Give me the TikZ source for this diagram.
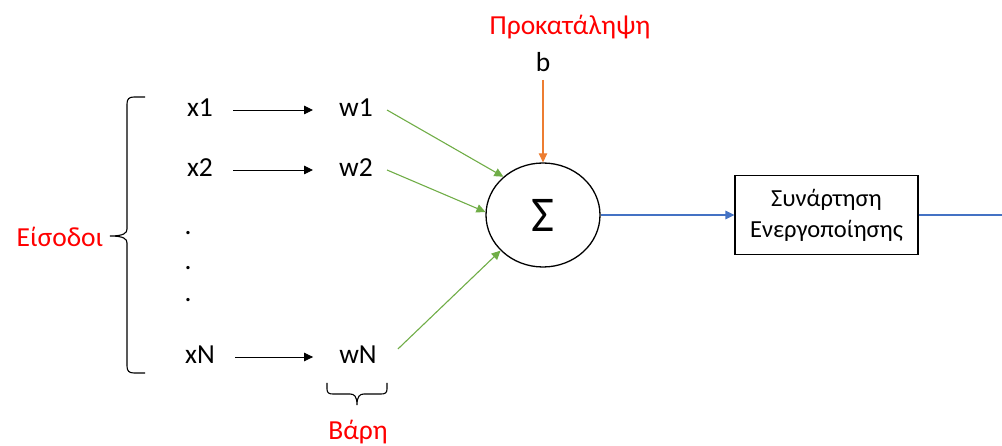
\documentclass[tikz,border=0pt]{standalone}
\usepackage{fontspec}
\setmainfont{Carlito}
\usetikzlibrary{arrows.meta,shapes.geometric}
\definecolor{wgreen}{HTML}{70AD47}
\definecolor{borange}{HTML}{ED7D31}
\definecolor{oblue}{HTML}{4472C4}
\definecolor{tred}{HTML}{FF0000}
\begin{document}
\begin{tikzpicture}[x=1pt,y=-1pt,
  lbl/.style={font=\fontsize{27.5}{32}\selectfont, inner sep=0pt},
  redlbl/.style={lbl, text=tred},
  tip/.style={-{Triangle[length=9pt,width=8.5pt]}},
  blackarrow/.style={tip, draw=black, line width=0.9pt},
  greenarrow/.style={tip, draw=wgreen, line width=1.1pt},
  orangearrow/.style={tip, draw=borange, line width=1.1pt},
  bluearrow/.style={tip, draw=oblue, line width=1.1pt},
  bracket/.style={draw=black, line width=1.1pt},
  neuron/.style={ellipse, draw=black, line width=1.3pt, minimum width=114pt, minimum height=104pt, inner sep=0pt, font=\fontsize{50}{54}\selectfont},
  funcbox/.style={rectangle, draw=black, line width=1.1pt, minimum width=183pt, minimum height=79pt, inner sep=0pt, align=center, font=\fontsize{24.5}{31}\selectfont}]
\useasboundingbox (0,0) rectangle (1002,446);

% inputs
\node[lbl] (x1) at (200,108) {x1};
\node[lbl] (x2) at (200,168) {x2};
\node[lbl] (d1) at (188,233) {.};
\node[lbl] (d2) at (188,268) {.};
\node[lbl] (d3) at (188,300) {.};
\node[lbl] (xN) at (200,355) {xN};

% weights
\node[lbl] (w1) at (356,108) {w1};
\node[lbl] (w2) at (356,168) {w2};
\node[lbl] (wN) at (358,355) {wN};

% summation and activation
\node[neuron] (sum) at (543,215) {Σ};
\node[lbl] (b) at (543,62) {b};
\node[redlbl] (bias) at (570,27) {Προκατάληψη};
\node[funcbox] (act) at (826.5,215) {Συνάρτηση\\Ενεργοποίησης};
\coordinate (out) at (1002,215);

% labels of the braces
\node[redlbl] (inputs) at (60,237) {Είσοδοι};
\node[redlbl] (weights) at (358,432) {Βάρη};

% input -> weight arrows
\draw[blackarrow] ([xshift=20pt,yshift=-2pt]x1.east) -- ([xshift=-26pt,yshift=-2pt]w1.west);
\draw[blackarrow] ([xshift=20pt,yshift=-2pt]x2.east) -- ([xshift=-26pt,yshift=-2pt]w2.west);
\draw[blackarrow] ([xshift=20pt,yshift=-2pt]xN.east) -- ([xshift=-26pt,yshift=-2pt]wN.west);

% weighted inputs into the sum
\draw[greenarrow] ([xshift=14pt,yshift=-2pt]w1.east) -- (sum.136);
\draw[greenarrow] ([xshift=14pt,yshift=-2pt]w2.east) -- (sum.177);
\draw[greenarrow] ([xshift=21pt,yshift=6pt]wN.east) -- (sum.220);

% bias
\draw[orangearrow] ([yshift=-8pt]b.south) -- (sum.north);

% output path
\draw[bluearrow] (sum.east) -- (act.west);
\draw[oblue, line width=1.1pt] (act.east) -- (out);

% brace around the inputs
\draw[bracket] (145,97) -- (134,97) .. controls (129,97) and (127,99) .. (127,104)
  -- (127,229) .. controls (127,233) and (124,236) .. (110,236)
  .. controls (124,236) and (127,239) .. (127,243)
  -- (127,366) .. controls (127,371) and (129,373) .. (134,373) -- (145,373);

% brace under the weights
\draw[bracket] (327,383) -- (327,389) .. controls (327,393) and (329,394) .. (333,394)
  -- (350,394) .. controls (354,394) and (357,396) .. (357,405)
  .. controls (357,396) and (360,394) .. (364,394)
  -- (381,394) .. controls (385,394) and (387,393) .. (387,389) -- (387,383);
\end{tikzpicture}
\end{document}
